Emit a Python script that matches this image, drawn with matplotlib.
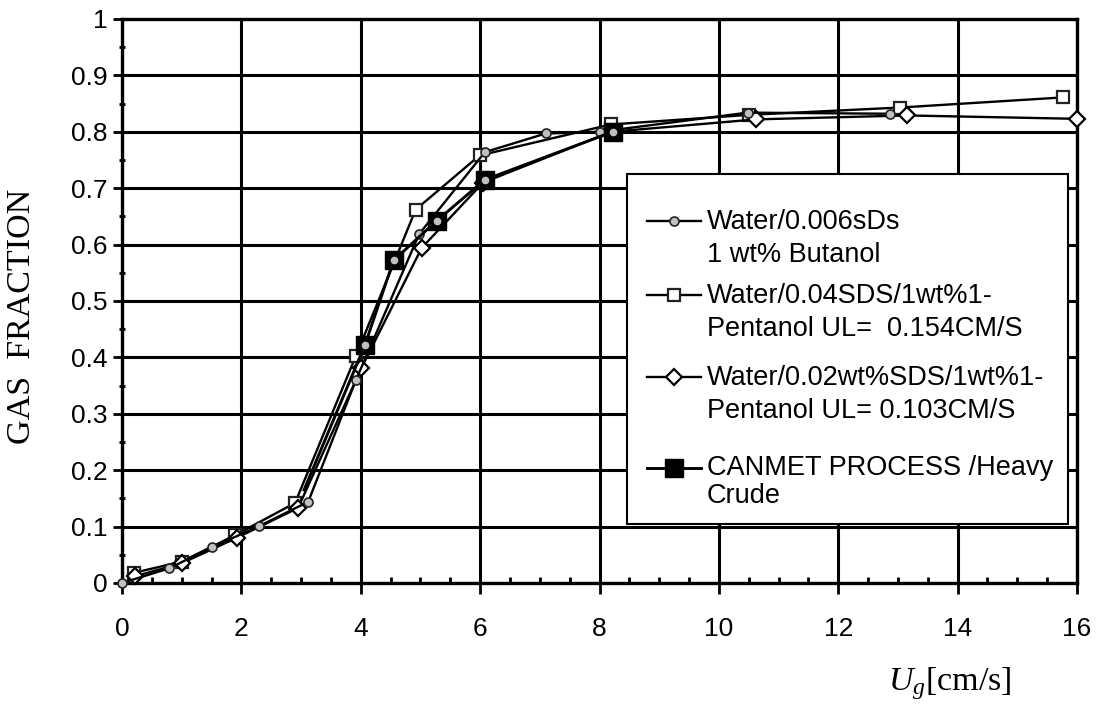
import matplotlib
matplotlib.use("Agg")
import matplotlib.pyplot as plt
from matplotlib.lines import Line2D
from matplotlib.patches import Rectangle
from matplotlib.ticker import MultipleLocator, FuncFormatter

# ---------------- data ----------------
circ_x = [0, 0.79, 1.5, 2.3, 3.12, 3.92, 4.98, 6.08, 7.1, 8.0, 10.48, 12.87]
circ_y = [0, 0.026, 0.063, 0.101, 0.144, 0.36, 0.619, 0.764, 0.797, 0.80, 0.834, 0.832]

sq_x = [0.2, 1.0, 1.9, 2.9, 3.92, 4.92, 5.99, 8.19, 10.5, 13.03, 15.77]
sq_y = [0.018, 0.038, 0.085, 0.142, 0.403, 0.662, 0.758, 0.813, 0.83, 0.843, 0.861]

dia_x = [0.22, 1.0, 1.92, 2.95, 4.01, 5.02, 6.05, 8.2, 10.62, 13.15, 16.0]
dia_y = [0.012, 0.035, 0.08, 0.133, 0.381, 0.594, 0.71, 0.80, 0.822, 0.829, 0.823]

can_x = [3.05, 4.07, 4.55, 5.27, 6.08, 8.22]
can_y = [0.165, 0.422, 0.572, 0.642, 0.715, 0.80]

labels = ["Water/0.006sDs\n1 wt% Butanol",
          "Water/0.04SDS/1wt%1-\nPentanol UL=  0.154CM/S",
          "Water/0.02wt%SDS/1wt%1-\nPentanol UL= 0.103CM/S",
          "CANMET PROCESS /Heavy\nCrude"]

x_ticks = list(range(0, 17, 2))
y_ticks = [0, 0.1, 0.2, 0.3, 0.4, 0.5, 0.6, 0.7, 0.8, 0.9, 1.0]

# ---------------- figure ----------------
W, H = 1101, 707
fig = plt.figure(figsize=(W / 100, H / 100), dpi=100)
L, R, T, B = 122, 1077, 19, 583
ax = fig.add_axes([L / W, (H - B) / H, (R - L) / W, (B - T) / H])

sans = "Liberation Sans"
serif = "Liberation Serif"

ax.set_xlim(0, 16)
ax.set_ylim(0, 1)
ax.set_xticks(x_ticks)
ax.set_yticks(y_ticks)
ax.xaxis.set_minor_locator(MultipleLocator(0.5))
ax.yaxis.set_minor_locator(MultipleLocator(0.05))
ax.yaxis.set_major_formatter(FuncFormatter(lambda v, p: "%g" % round(v, 2)))
ax.grid(True, which="major", color="black", linewidth=2.2)
ax.set_axisbelow(True)
for s in ax.spines.values():
    s.set_linewidth(2.4)
ax.tick_params(axis="x", which="major", direction="out", length=8, width=2, pad=16.5,
               labelsize=19)
ax.tick_params(axis="x", which="minor", direction="in", length=4, width=2)
ax.tick_params(axis="y", which="major", direction="out", length=6.5, width=2, pad=4,
               labelsize=19)
ax.tick_params(axis="y", which="minor", direction="inout", length=5, width=2)
for lab in ax.get_xticklabels() + ax.get_yticklabels():
    lab.set_fontfamily(sans)

lw = 1.7
ax.plot(circ_x, circ_y, color="black", lw=lw, marker="o", ms=6.5, mfc="#c0c0c0",
        mec="#222222", mew=1.2, clip_on=False, zorder=4)
ax.plot(sq_x, sq_y, color="black", lw=lw, marker="s", ms=9, mfc="white",
        mec="#222222", mew=1.6, clip_on=False, zorder=3)
ax.plot(dia_x, dia_y, color="black", lw=lw, marker="D", ms=8, mfc="white",
        mec="black", mew=1.6, clip_on=False, zorder=3)
ax.plot(can_x, can_y, color="black", lw=lw + 0.4, marker="s", ms=13, mfc="black",
        mec="black", markevery=list(range(1, len(can_x))), clip_on=False, zorder=5)
ax.plot(can_x[1:], can_y[1:], ls="none", marker="o", ms=4.5, mfc="#c0c0c0",
        mec="#c0c0c0", zorder=6)

# ---------------- legend (manual, Excel-like layout) ----------------
def ax_pt(px, py):
    return ((px - L) / (R - L), (B - py) / (B - T))

x0, y0 = ax_pt(627, 524)
x1, y1 = ax_pt(1068, 174)
ax.add_patch(Rectangle((x0, y0), x1 - x0, y1 - y0, transform=ax.transAxes,
                       facecolor="white", edgecolor="black", lw=1.5, zorder=10,
                       clip_on=False))

handle_y = [221, 295, 377, 468]
base1 = [229, 303, 385, 475]
base2 = [262, 336, 418, 503]
styles = [dict(marker="o", ms=6.5, mfc="#c0c0c0", mec="#222222", mew=1.2, lw=lw),
          dict(marker="s", ms=9, mfc="white", mec="#222222", mew=1.6, lw=lw),
          dict(marker="D", ms=8, mfc="white", mec="black", mew=1.6, lw=lw),
          dict(marker="s", ms=13, mfc="black", mec="black", lw=lw + 0.4)]
for i, lab in enumerate(labels):
    hx0, hy = ax_pt(647, handle_y[i])
    hx1, _ = ax_pt(701, handle_y[i])
    st = dict(styles[i])
    mk = dict(marker=st.pop("marker"), ms=st.pop("ms"), mfc=st.pop("mfc"),
              mec=st.pop("mec"))
    if "mew" in st:
        mk["mew"] = st.pop("mew")
    ax.add_line(Line2D([hx0, hx1], [hy, hy], color="black", lw=st["lw"],
                       transform=ax.transAxes, zorder=11, clip_on=False))
    ax.add_line(Line2D([(hx0 + hx1) / 2], [hy], ls="none", transform=ax.transAxes,
                       zorder=12, clip_on=False, **mk))
    l1, l2 = lab.split("\n")
    tx, ty1 = ax_pt(707, base1[i])
    _, ty2 = ax_pt(707, base2[i])
    ax.text(tx, ty1, l1, transform=ax.transAxes, fontsize=19.5, family=sans,
            va="baseline", ha="left", zorder=12)
    ax.text(tx, ty2, l2, transform=ax.transAxes, fontsize=19.5, family=sans,
            va="baseline", ha="left", zorder=12)

# ---------------- axis titles ----------------
plt.rcParams["mathtext.fontset"] = "custom"
plt.rcParams["mathtext.rm"] = serif
plt.rcParams["mathtext.it"] = serif + ":italic"
fig.text(950 / W, 1 - 690 / H, r"$U_g$[cm/s]", fontsize=24.5, family=serif,
         ha="center", va="baseline")
fig.text(22 / W, 1 - 316 / H, "GAS  FRACTION", fontsize=24.5, family=serif,
         rotation=90, ha="center", va="center")

fig.savefig("out.png", dpi=100)
